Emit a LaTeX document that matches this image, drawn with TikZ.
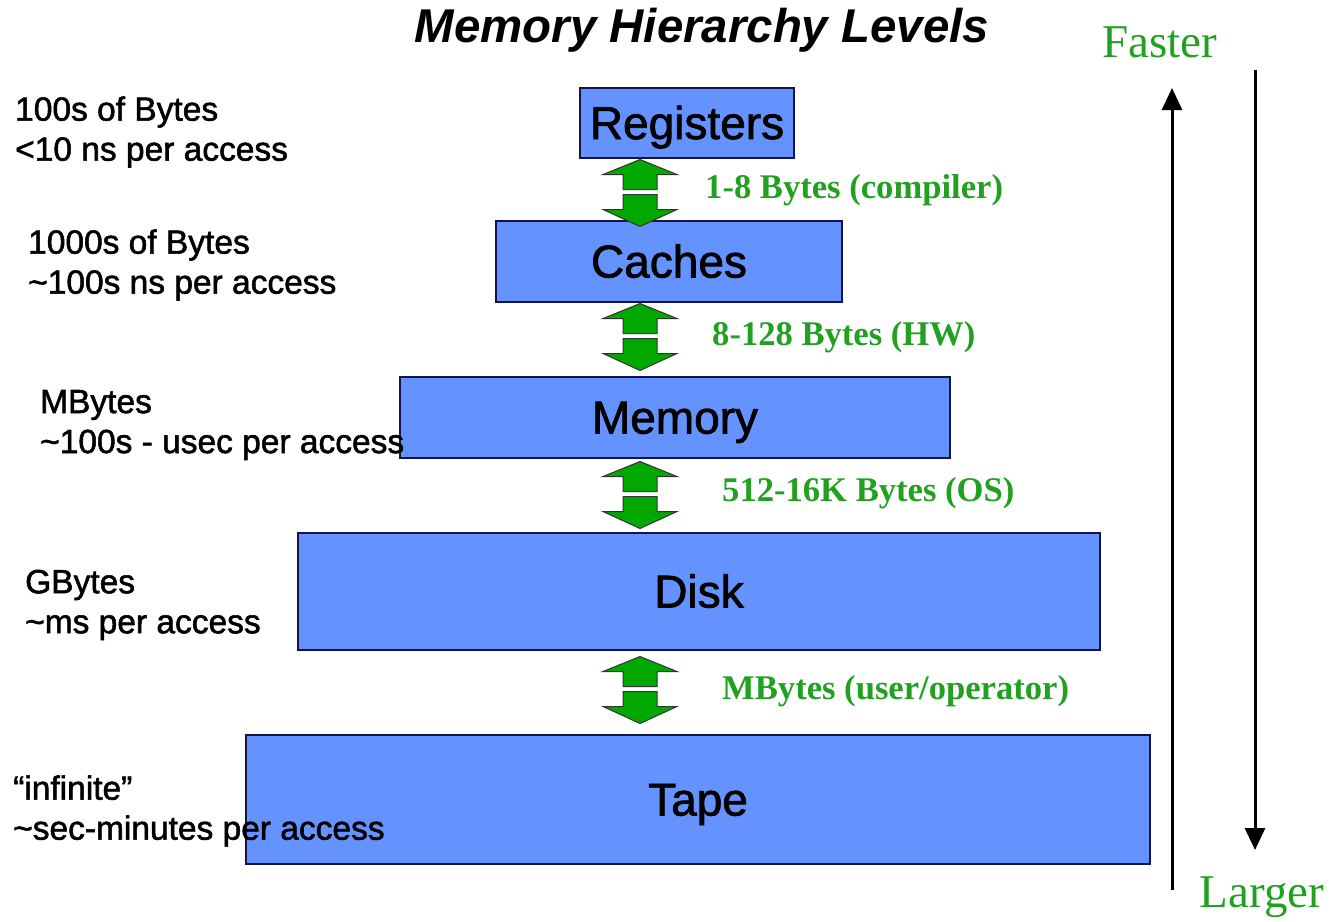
\documentclass[tikz,border=0pt]{standalone}
\usepackage{fontspec}
\setmainfont{Liberation Sans}
\newfontfamily\heavysans{Liberation Sans}[FakeBold=1.6]
\newfontfamily\timesfont{Liberation Serif}
\usetikzlibrary{positioning,calc,arrows.meta}

\definecolor{levelblue}{RGB}{100,146,255}
\definecolor{levelline}{RGB}{20,20,70}
\definecolor{movegreen}{RGB}{0,168,0}
\definecolor{textgreen}{RGB}{34,160,34}

% green up/down block arrow between two levels
\tikzset{updown/.pic={
  \filldraw[fill=movegreen, draw=black!80, line width=1pt]
    (0,-33) -- (37,-18) -- (17,-18) -- (17,-3) -- (-17,-3) -- (-17,-18) -- (-37,-18) -- cycle;
  \filldraw[fill=movegreen, draw=black!80, line width=1pt]
    (0,34) -- (37,17) -- (17,17) -- (17,2) -- (-17,2) -- (-17,17) -- (-37,17) -- cycle;
}}

\begin{document}
\begin{tikzpicture}[x=1pt,y=-1pt,
level/.style={draw=levelline, line width=1.5pt, fill=levelblue, inner sep=0pt, text height=40pt, text depth=8pt, font=\heavysans\fontsize{46}{50}\selectfont},
costlabel/.style={anchor=west, align=left, inner sep=0pt, font=\heavysans\fontsize{33.5}{40}\selectfont},
movelabel/.style={anchor=west, inner sep=0pt, text=textgreen, font=\timesfont\bfseries\fontsize{34.6}{40}\selectfont},
trend/.style={text=textgreen, inner sep=0pt, font=\timesfont\fontsize{47}{50}\selectfont},
axis/.style={line width=3pt, -{Triangle[width=20pt,length=22pt]}}]

\useasboundingbox (0,0) rectangle (1330,921);

\node[font=\bfseries\itshape\fontsize{47.4}{50}\selectfont] (title) at (702,30) {Memory Hierarchy Levels};

% the levels, small and fast on top
\node[level, minimum width=214pt, minimum height=70pt] (reg) at (687,123) {Registers};
\node[level, minimum width=346pt, minimum height=81pt] (cache) at (669,261.5) {Caches};
\node[level, minimum width=550pt, minimum height=81pt] (mem) at (675,417.5) {Memory};
\node[level, minimum width=802pt, minimum height=117pt] (disk) at (699,591.5) {Disk};
\node[level, minimum width=904pt, minimum height=129pt] (tape) at (698,799.5) {Tape};

% transfers between levels
\coordinate (spine) at (640,0);
\coordinate (m1) at ($(reg.south)!0.5!(cache.north)$);
\coordinate (m2) at ($(cache.south)!0.5!(mem.north)$);
\coordinate (m3) at ($(mem.south)!0.5!(disk.north)$);
\coordinate (m4) at ($(disk.south)!0.5!(tape.north)$);
\pic at ([yshift=-3pt]m1 -| spine) {updown};
\pic at ([yshift=3pt]m2 -| spine) {updown};
\pic at ([yshift=1pt]m3 -| spine) {updown};
\pic at ([yshift=3pt]m4 -| spine) {updown};

\node[movelabel] (w1) at (705,190) {1-8 Bytes (compiler)};
\node[movelabel] (w2) at (712,337) {8-128 Bytes (HW)};
\node[movelabel] (w3) at (722,493) {512-16K Bytes (OS)};
\node[movelabel] (w4) at (722,691) {MBytes (user/operator)};

% size and access time of each level
\node[costlabel] (c1) at (15,132) {100s of Bytes\\<10 ns per access};
\node[costlabel] (c2) at (28,265) {1000s of Bytes\\\textasciitilde100s ns per access};
\node[costlabel] (c3) at (40,425) {MBytes\\\textasciitilde100s - usec per access};
\node[costlabel] (c4) at (25,605) {GBytes\\\textasciitilde ms per access};
\node[costlabel] (c5) at (13,811) {“infinite”\\\textasciitilde sec-minutes per access};

% speed and size trends
\node[trend] (faster) at (1160,42) {Faster};
\node[trend] (larger) at (1262,897) {Larger};
\coordinate (fastTail) at (1172,890);
\coordinate (fastTip) at (1172,88);
\coordinate (largeTail) at (1255,70);
\coordinate (largeTip) at (1255,850);
\draw[axis] (fastTail) -- (fastTip);
\draw[axis] (largeTail) -- (largeTip);
\end{tikzpicture}
\end{document}
